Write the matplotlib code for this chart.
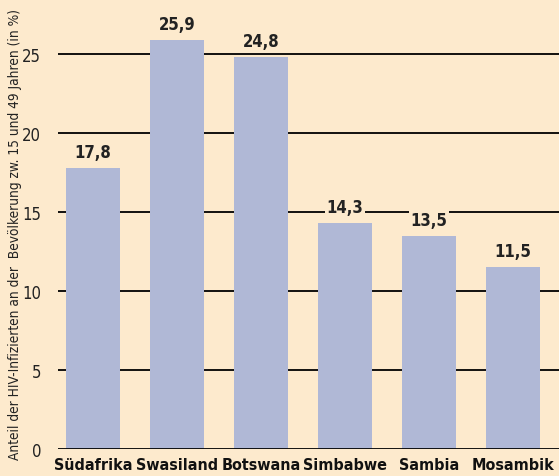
import numpy as np
import matplotlib.pyplot as plt
from matplotlib import font_manager

laender = ['Südafrika', 'Swasiland', 'Botswana', 'Simbabwe', 'Sambia', 'Mosambik']
anteil = [17.8, 25.9, 24.8, 14.3, 13.5, 11.5]
wert_text = ['17,8', '25,9', '24,8', '14,3', '13,5', '11,5']
yticks = [0, 5, 10, 15, 20, 25]

# look for a narrow / condensed font file
files = sorted({f.fname for f in font_manager.fontManager.ttflist})
def pick(keys):
    for k in keys:
        for f in files:
            if k.lower() in f.lower():
                return f
    return None

reg = pick(['LiberationSansNarrow-Regular', 'DejaVuSansCondensed.ttf', 'OpenSans_Condensed-Regular', 'Roboto_Condensed-Regular', 'RobotoCondensed-Regular'])
bold = pick(['LiberationSansNarrow-Bold.', 'DejaVuSansCondensed-Bold.', 'OpenSans_Condensed-Bold', 'Roboto_Condensed-Bold', 'RobotoCondensed-Bold'])
fp_reg = font_manager.FontProperties(fname=reg) if reg else font_manager.FontProperties(family='DejaVu Sans', stretch='condensed')
fp_bold = font_manager.FontProperties(fname=bold) if bold else font_manager.FontProperties(family='DejaVu Sans', weight='bold', stretch='condensed')

bg = '#fdeacd'
barcol = '#b0b8d6'

fig = plt.figure(figsize=(5.59, 4.77), dpi=100, facecolor=bg)
ax = fig.add_axes([58/559, 27/477, 501/559, 450/477])
ax.set_facecolor(bg)

x = np.arange(len(laender))
ax.bar(x, anteil, width=0.643, color=barcol, zorder=2)

for t in yticks[1:]:
    ax.axhline(t, color='black', lw=1.3, zorder=1)
ax.axhline(0, color='black', lw=2, zorder=3)

for xi, v, s in zip(x, anteil, wert_text):
    ax.text(xi, v + 0.45, s, ha='center', va='bottom', fontproperties=fp_bold, fontsize=12,
            color='#222222', zorder=4,
            bbox=dict(facecolor=bg, edgecolor='none', pad=1.5))

ax.set_xlim(-0.417, 5.548)
ax.set_ylim(0, 28.5)
ax.set_yticks(yticks)
ax.set_yticklabels([str(t) for t in yticks], fontproperties=fp_reg, fontsize=12, color='#222222')
ax.set_xticks(x)
ax.set_xticklabels(laender, fontproperties=fp_bold, fontsize=11.5, color='#111111')
ax.tick_params(axis='both', length=0)
ax.tick_params(axis='y', pad=12)
ax.tick_params(axis='x', pad=6)
for sp in ax.spines.values():
    sp.set_visible(False)

fig.text(15/559, 1 - 234/477,
         'Anteil der HIV-Infizierten an der  Bevölkerung zw. 15 und 49 Jahren (in %)',
         rotation=90, ha='center', va='center', fontproperties=fp_reg, fontsize=9.8, color='#222222')

fig.savefig('out.png', dpi=100, facecolor=bg)
